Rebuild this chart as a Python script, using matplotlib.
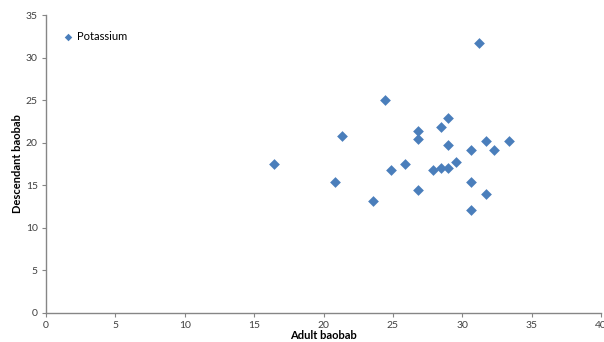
import matplotlib
matplotlib.use("Agg")
import matplotlib.pyplot as plt

plt.rcParams['font.family'] = ['Lato', 'DejaVu Sans']

adult = [16.4, 20.8, 21.35, 23.55, 24.4, 24.9, 25.9, 26.8, 26.8, 26.8, 27.9, 28.45,
         28.45, 29.0, 29.0, 29.0, 29.55, 30.6, 30.6, 30.6, 31.2, 31.7, 31.7, 32.3, 33.4]
descendant = [17.5, 15.35, 20.8, 13.15, 25.0, 16.8, 17.5, 21.4, 20.4, 14.4, 16.8, 17.05,
              21.9, 22.95, 19.7, 17.05, 17.7, 19.2, 15.35, 12.05, 31.75, 20.25, 13.95, 19.2, 20.25]
series_name = "Potassium"
x_label = "Adult baobab"
y_label = "Descendant baobab"

fig = plt.figure(figsize=(6.04, 3.42), dpi=100)
ax = fig.add_axes([0.0762, 0.0848, 0.9188, 0.8712])
ax.scatter(adult, descendant, marker='D', s=30, color='#4A7EBB', linewidths=0,
           label=series_name, zorder=3)
ax.set_xlim(0, 40)
ax.set_ylim(0, 35)
ax.set_xticks(range(0, 41, 5))
ax.set_yticks(range(0, 36, 5))
for s in ['top', 'right']:
    ax.spines[s].set_visible(False)
for s in ['left', 'bottom']:
    ax.spines[s].set_color('#868686')
    ax.spines[s].set_linewidth(1.0)
ax.tick_params(axis='both', colors='#868686', labelcolor='#404040', labelsize=7.5,
               length=3, width=0.8, direction='out', pad=3)
ax.set_xlabel(x_label, fontsize=8, fontweight='bold', color='#000000', labelpad=0)
ax.set_ylabel(y_label, fontsize=8, fontweight='bold', color='#000000', labelpad=2)
leg = ax.legend(loc='upper left', bbox_to_anchor=(0.01, 0.965), frameon=False,
                fontsize=8, handletextpad=-0.2, markerscale=0.7, borderaxespad=0.2,
                borderpad=0.3)
fig.savefig("out.png", dpi=100)
